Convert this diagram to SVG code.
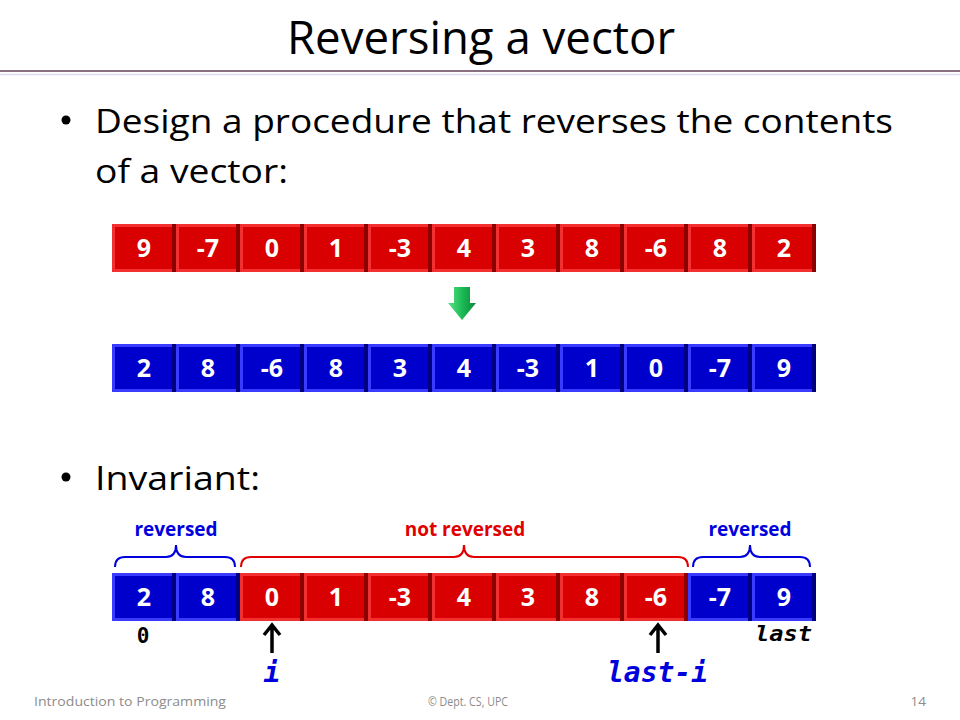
<svg xmlns="http://www.w3.org/2000/svg" xmlns:xlink="http://www.w3.org/1999/xlink" width="960" height="720" viewBox="0 0 960 720">
<style>
.num{font-family:"Open Sans","Liberation Sans",sans-serif;font-weight:bold;font-size:25px;fill:#fff;text-anchor:middle}
.body{font-family:"Open Sans","Liberation Sans",sans-serif;font-size:33px;fill:#000}
.lbl{font-family:"Open Sans","Liberation Sans",sans-serif;font-weight:bold;font-size:19px;text-anchor:middle}
.mono{font-family:"DejaVu Sans Mono","Liberation Mono",monospace;font-weight:bold}
.foot{font-family:"Open Sans","Liberation Sans",sans-serif;font-size:13.5px;fill:#8c8c8c}
.brace{fill:none;stroke-width:2}
.ptr{fill:none;stroke:#000;stroke-width:3.5}
</style>
<defs>
<g id="rc">
<rect x="0" y="0" width="64" height="48" fill="#f23030"/>
<rect x="3" y="3" width="57" height="42" fill="#d80000"/>
<rect x="60" y="0" width="4" height="48" fill="#8c0000"/>
</g>
<g id="bc">
<rect x="0" y="0" width="64" height="48" fill="#3b3bff"/>
<rect x="3" y="3" width="57" height="42" fill="#0000cc"/>
<rect x="60" y="0" width="4" height="48" fill="#000080"/>
</g>
<linearGradient id="gr" x1="0" y1="0" x2="1" y2="0">
<stop offset="0" stop-color="#5be08a"/>
<stop offset="0.5" stop-color="#1cbb55"/>
<stop offset="1" stop-color="#0a8a3a"/>
</linearGradient>
</defs>
<rect width="960" height="720" fill="#fff"/>
<g id="title">
<text x="287" y="54" font-family="Open Sans,Liberation Sans,sans-serif" font-size="45" textLength="388" lengthAdjust="spacingAndGlyphs">Reversing a vector</text>
<line x1="0" y1="71" x2="960" y2="71" stroke="#8a6f80" stroke-width="2"/>
<line x1="0" y1="74.5" x2="960" y2="74.5" stroke="#dcdcec" stroke-width="1.5"/>
</g>
<g id="bullets">
<circle cx="66" cy="120" r="4.5" fill="#000"/>
<text class="body" x="95" y="133" textLength="798" lengthAdjust="spacingAndGlyphs">Design a procedure that reverses the contents</text>
<text class="body" x="95" y="183" textLength="193" lengthAdjust="spacingAndGlyphs">of a vector:</text>
<circle cx="66" cy="477" r="4.5" fill="#000"/>
<text class="body" x="95" y="490" textLength="165" lengthAdjust="spacingAndGlyphs">Invariant:</text>
</g>
<g id="row1">
<g id="r1c0"><use xlink:href="#rc" x="112" y="224"/><text class="num" x="144" y="257">9</text></g>
<g id="r1c1"><use xlink:href="#rc" x="176" y="224"/><text class="num" x="208" y="257">-7</text></g>
<g id="r1c2"><use xlink:href="#rc" x="240" y="224"/><text class="num" x="272" y="257">0</text></g>
<g id="r1c3"><use xlink:href="#rc" x="304" y="224"/><text class="num" x="336" y="257">1</text></g>
<g id="r1c4"><use xlink:href="#rc" x="368" y="224"/><text class="num" x="400" y="257">-3</text></g>
<g id="r1c5"><use xlink:href="#rc" x="432" y="224"/><text class="num" x="464" y="257">4</text></g>
<g id="r1c6"><use xlink:href="#rc" x="496" y="224"/><text class="num" x="528" y="257">3</text></g>
<g id="r1c7"><use xlink:href="#rc" x="560" y="224"/><text class="num" x="592" y="257">8</text></g>
<g id="r1c8"><use xlink:href="#rc" x="624" y="224"/><text class="num" x="656" y="257">-6</text></g>
<g id="r1c9"><use xlink:href="#rc" x="688" y="224"/><text class="num" x="720" y="257">8</text></g>
<g id="r1c10"><use xlink:href="#rc" x="752" y="224"/><text class="num" x="784" y="257">2</text></g>
</g>
<g id="greenarrow">
<polygon points="454,287 470,287 470,303 476,303 462,320 448,303 454,303" fill="url(#gr)"/>
</g>
<g id="row2">
<g id="r2c0"><use xlink:href="#bc" x="112" y="344"/><text class="num" x="144" y="377">2</text></g>
<g id="r2c1"><use xlink:href="#bc" x="176" y="344"/><text class="num" x="208" y="377">8</text></g>
<g id="r2c2"><use xlink:href="#bc" x="240" y="344"/><text class="num" x="272" y="377">-6</text></g>
<g id="r2c3"><use xlink:href="#bc" x="304" y="344"/><text class="num" x="336" y="377">8</text></g>
<g id="r2c4"><use xlink:href="#bc" x="368" y="344"/><text class="num" x="400" y="377">3</text></g>
<g id="r2c5"><use xlink:href="#bc" x="432" y="344"/><text class="num" x="464" y="377">4</text></g>
<g id="r2c6"><use xlink:href="#bc" x="496" y="344"/><text class="num" x="528" y="377">-3</text></g>
<g id="r2c7"><use xlink:href="#bc" x="560" y="344"/><text class="num" x="592" y="377">1</text></g>
<g id="r2c8"><use xlink:href="#bc" x="624" y="344"/><text class="num" x="656" y="377">0</text></g>
<g id="r2c9"><use xlink:href="#bc" x="688" y="344"/><text class="num" x="720" y="377">-7</text></g>
<g id="r2c10"><use xlink:href="#bc" x="752" y="344"/><text class="num" x="784" y="377">9</text></g>
</g>
<g id="labels">
<text class="lbl" x="176" y="536" fill="#0000dd">reversed</text>
<text class="lbl" x="465" y="536" fill="#e00000">not reversed</text>
<text class="lbl" x="750" y="536" fill="#0000dd">reversed</text>
</g>
<g id="braces">
<path class="brace" stroke="#0000dd" d="M115,567 Q115,557 125,557 L166,557 Q176,557 176,545 Q176,557 186,557 L225,557 Q235,557 235,567"/>
<path class="brace" stroke="#e00000" d="M241,567 Q241,557 251,557 L454,557 Q464,557 464,545 Q464,557 474,557 L678,557 Q688,557 688,567"/>
<path class="brace" stroke="#0000dd" d="M693,567 Q693,557 703,557 L740,557 Q750,557 750,545 Q750,557 760,557 L800,557 Q810,557 810,567"/>
</g>
<g id="row3">
<g id="r3c0"><use xlink:href="#bc" x="112" y="573"/><text class="num" x="144" y="606">2</text></g>
<g id="r3c1"><use xlink:href="#bc" x="176" y="573"/><text class="num" x="208" y="606">8</text></g>
<g id="r3c2"><use xlink:href="#rc" x="240" y="573"/><text class="num" x="272" y="606">0</text></g>
<g id="r3c3"><use xlink:href="#rc" x="304" y="573"/><text class="num" x="336" y="606">1</text></g>
<g id="r3c4"><use xlink:href="#rc" x="368" y="573"/><text class="num" x="400" y="606">-3</text></g>
<g id="r3c5"><use xlink:href="#rc" x="432" y="573"/><text class="num" x="464" y="606">4</text></g>
<g id="r3c6"><use xlink:href="#rc" x="496" y="573"/><text class="num" x="528" y="606">3</text></g>
<g id="r3c7"><use xlink:href="#rc" x="560" y="573"/><text class="num" x="592" y="606">8</text></g>
<g id="r3c8"><use xlink:href="#rc" x="624" y="573"/><text class="num" x="656" y="606">-6</text></g>
<g id="r3c9"><use xlink:href="#bc" x="688" y="573"/><text class="num" x="720" y="606">-7</text></g>
<g id="r3c10"><use xlink:href="#bc" x="752" y="573"/><text class="num" x="784" y="606">9</text></g>
</g>
<g id="indices">
<text class="mono" x="143" y="643" font-size="21" text-anchor="middle">0</text>
<text class="mono" x="755" y="641" font-size="22" font-style="italic" font-weight="normal" textLength="57" lengthAdjust="spacingAndGlyphs">last</text>
</g>
<g id="connectors">
<path class="ptr" d="M272,653 L272,626 M264,635 L272,625 L280,635"/>
<path class="ptr" d="M658,653 L658,626 M650,635 L658,625 L666,635"/>
</g>
<g id="pointers">
<text class="mono" x="272" y="682" font-size="28" font-style="italic" fill="#0000dd" text-anchor="middle">i</text>
<text class="mono" x="607" y="682" font-size="28" font-style="italic" fill="#0000dd" textLength="101" lengthAdjust="spacingAndGlyphs">last-i</text>
</g>
<g id="footer">
<text class="foot" x="34" y="706" textLength="192" lengthAdjust="spacingAndGlyphs">Introduction to Programming</text>
<text class="foot" x="428" y="706" textLength="80" lengthAdjust="spacingAndGlyphs">© Dept. CS, UPC</text>
<text class="foot" x="926" y="706" text-anchor="end">14</text>
</g>
</svg>
